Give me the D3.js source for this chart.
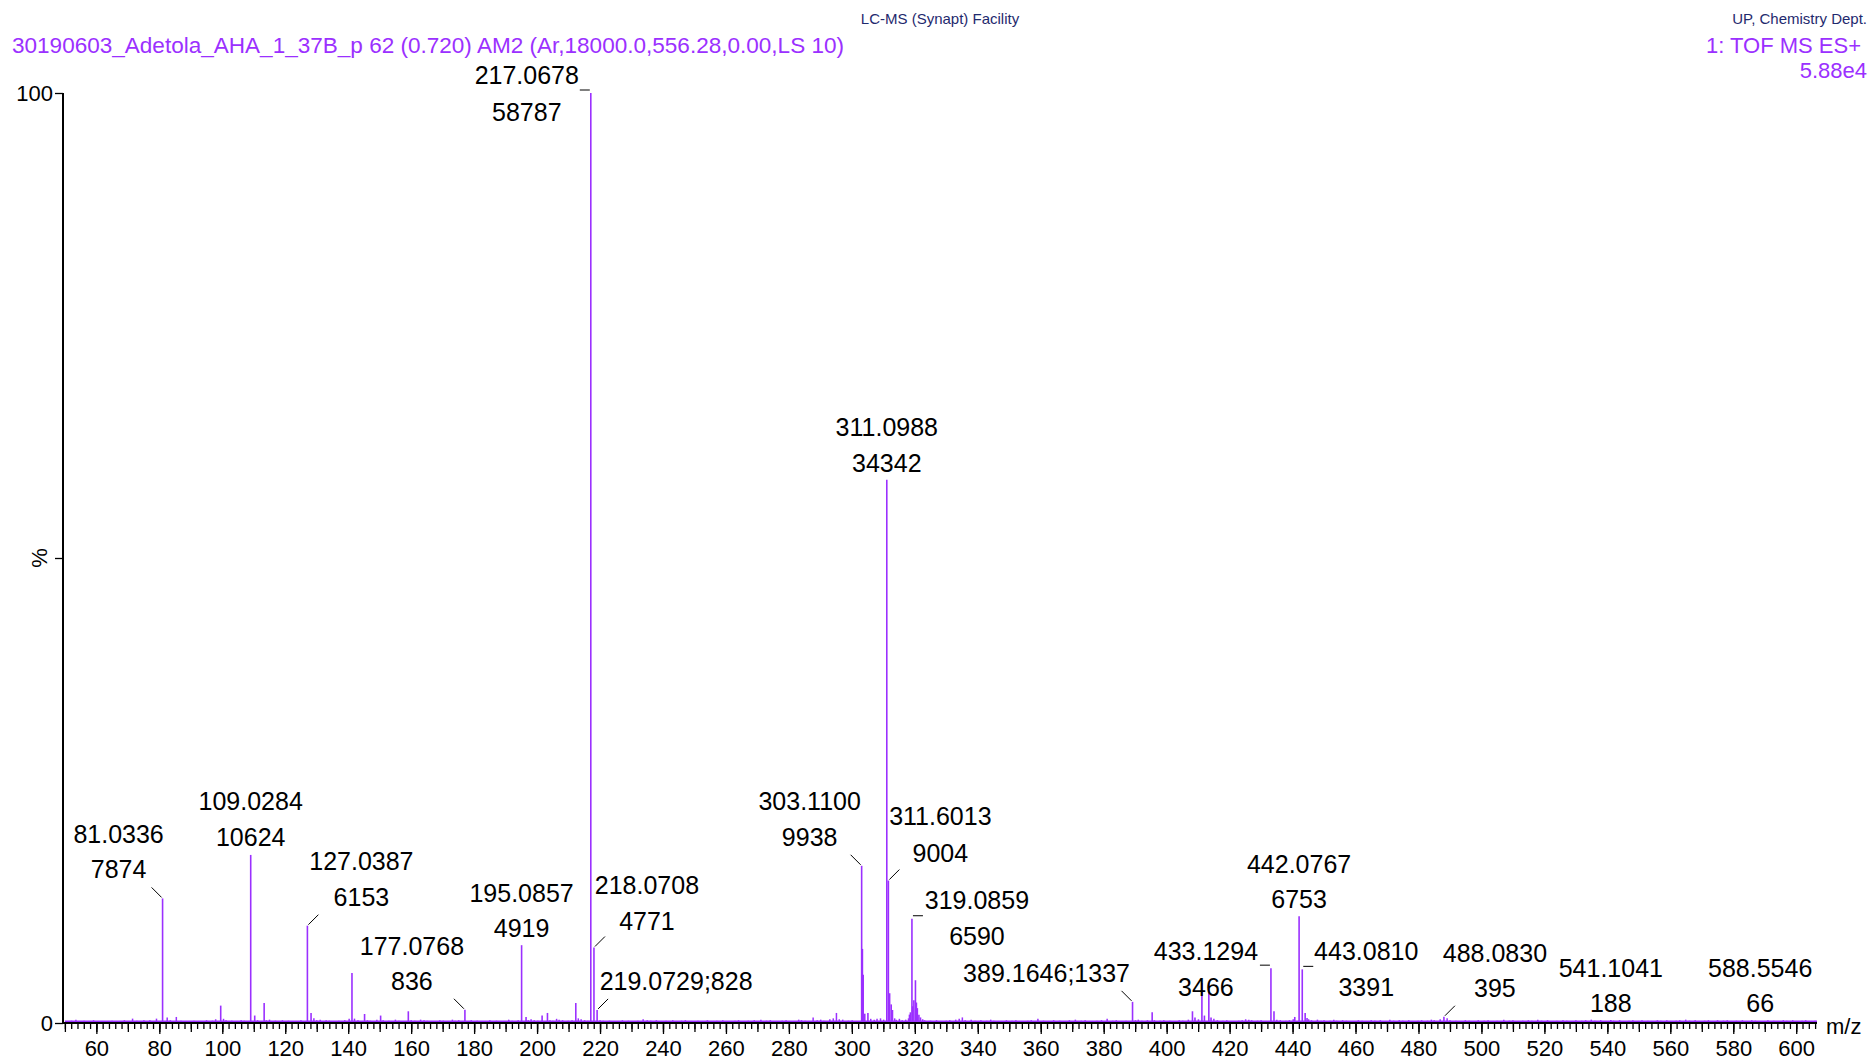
<!DOCTYPE html>
<html>
<head>
<meta charset="utf-8">
<script src="https://cdn.jsdelivr.net/npm/d3@7"></script>
<style>
  body { margin: 0; background: #fff; }
  svg text { font-family: "Liberation Sans", Arial, sans-serif; }
</style>
</head>
<body>
<script>
// ---- data ----
var basePeak = 58787;   // 100 % = 5.88e4

// labelled peaks (m/z, intensity counts)
var peakMz = [81.0336, 109.0284, 127.0387, 177.0768, 195.0857, 217.0678, 218.0708, 219.0729,
              303.1100, 311.0988, 311.6013, 319.0859, 389.1646, 433.1294, 442.0767, 443.0810,
              488.0830, 541.1041, 588.5546];
var peakInt = [7874, 10624, 6153, 836, 4919, 58787, 4771, 828,
               9938, 34342, 9004, 6590, 1337, 3466, 6753, 3391,
               395, 188, 66];
// label lines (second line empty when mass;intensity on one line)
var labelLine1 = ["81.0336", "109.0284", "127.0387", "177.0768", "195.0857", "217.0678", "218.0708", "219.0729;828",
                  "303.1100", "311.0988", "311.6013", "319.0859", "389.1646;1337", "433.1294", "442.0767", "443.0810",
                  "488.0830", "541.1041", "588.5546"];
var labelLine2 = ["7874", "10624", "6153", "836", "4919", "58787", "4771", "",
                  "9938", "34342", "9004", "6590", "", "3466", "6753", "3391",
                  "395", "188", "66"];

// smaller unlabelled peaks [m/z, % of base peak]
var minorPeaks = [
  [99.5, 1.87], [110.3, 0.8], [113.3, 2.15], [128.2, 1.08], [141.2, 5.38], [145.2, 0.97],
  [150.3, 0.8], [159.1, 1.26], [196.5, 0.65], [201.6, 0.8], [203.3, 1.08], [212.3, 2.15],
  [303.35, 7.97], [303.6, 5.2], [304.1, 1.0], [305.1, 1.08], [312.0, 3.2], [312.5, 2.0], [312.9, 1.4],
  [318.3, 0.9], [318.6, 1.15], [319.3, 1.8], [319.7, 2.44], [320.2, 4.6], [320.5, 2.2], [320.8, 1.6],
  [321.3, 0.9], [321.8, 0.6], [395.4, 1.15], [408.2, 1.26], [409.0, 0.6], [411.2, 4.3], [412.0, 0.8],
  [413.4, 4.3], [414.1, 0.6], [434.1, 1.26], [440.7, 0.65], [444.0, 1.08], [444.6, 0.54]
];

// baseline noise [m/z, %]
var noisePeaks = [
  [51.0,0.2],[52.1,0.25],[53.5,0.36],[55.0,0.2],[56.1,0.25],[57.0,0.22],[58.2,0.2],[59.1,0.3],[60.9,0.2],
  [62.0,0.22],[63.1,0.2],[65.0,0.25],[67.0,0.2],[68.9,0.3],[69.9,0.22],[71.5,0.47],[72.9,0.25],[74.0,0.2],
  [75.1,0.3],[77.0,0.3],[78.0,0.22],[79.1,0.47],[82.5,0.6],[83.5,0.3],[85.4,0.65],[86.9,0.25],[88.0,0.2],
  [89.1,0.22],[91.0,0.25],[92.0,0.2],[93.1,0.22],[95.0,0.3],[96.9,0.25],[97.9,0.4],[100.4,0.45],[101.2,0.3],
  [103.0,0.25],[104.9,0.22],[106.0,0.3],[107.0,0.25],[111.2,0.3],[114.0,0.3],[115.0,0.36],[116.9,0.25],
  [118.0,0.2],[119.1,0.3],[121.0,0.25],[123.0,0.2],[124.1,0.22],[125.0,0.3],[129.1,0.5],[130.0,0.3],
  [131.1,0.36],[133.0,0.3],[134.0,0.25],[135.1,0.22],[137.0,0.25],[138.9,0.3],[140.3,0.47],[142.0,0.47],
  [143.1,0.3],[146.1,0.3],[147.0,0.25],[149.1,0.36],[151.1,0.3],[152.9,0.25],[155.0,0.36],[156.1,0.25],
  [157.1,0.2],[160.0,0.3],[161.1,0.25],[163.0,0.36],[164.1,0.3],[165.1,0.25],[167.0,0.2],[169.1,0.3],
  [170.2,0.25],[171.1,0.22],[173.1,0.36],[174.0,0.25],[175.1,0.3],[178.0,0.22],[179.1,0.3],[181.0,0.25],
  [182.9,0.2],[184.1,0.22],[185.0,0.3],[187.1,0.25],[189.0,0.2],[191.0,0.36],[192.1,0.25],[194.0,0.3],
  [197.2,0.3],[198.1,0.4],[199.1,0.3],[200.2,0.25],[204.1,0.3],[205.0,0.25],[206.2,0.45],[207.0,0.36],
  [208.1,0.3],[209.9,0.25],[211.1,0.3],[213.1,0.5],[214.0,0.4],[215.1,0.3],[216.1,0.25],[220.0,0.3],
  [221.0,0.25],[222.1,0.2],[223.0,0.25],[224.9,0.2],[226.0,0.22],[227.1,0.3],[229.0,0.25],[230.9,0.22],
  [232.0,0.25],[233.7,0.4],[235.0,0.3],[236.1,0.25],[237.9,0.3],[239.1,0.22],[241.0,0.25],[243.1,0.3],
  [244.0,0.2],[245.9,0.25],[247.1,0.3],[249.0,0.22],[251.1,0.25],[252.9,0.2],[254.1,0.3],[256.0,0.22],
  [257.1,0.25],[259.0,0.3],[261.1,0.2],[262.9,0.25],[264.0,0.3],[265.9,0.22],[267.1,0.25],[269.0,0.3],
  [271.1,0.36],[272.9,0.25],[274.1,0.3],[276.0,0.22],[277.9,0.25],[279.1,0.3],[281.0,0.22],[283.1,0.36],
  [284.0,0.3],[285.1,0.25],[287.7,0.6],[289.0,0.3],[290.1,0.36],[291.1,0.25],[293.0,0.4],[294.1,0.5],
  [295.1,1.08],[296.0,0.4],[297.1,0.36],[298.9,0.25],[300.1,0.3],[301.0,0.22],[306.0,0.45],[307.1,0.36],
  [308.0,0.45],[309.1,0.5],[310.1,0.36],[313.6,0.5],[314.1,0.36],[315.1,0.45],[316.0,0.3],[317.1,0.36],
  [318.0,0.5],[322.5,0.4],[323.1,0.3],[325.0,0.25],[326.9,0.3],[328.1,0.22],[330.0,0.25],[331.1,0.3],
  [333.0,0.36],[334.1,0.45],[335.1,0.6],[336.0,0.3],[337.9,0.36],[339.1,0.25],[341.0,0.3],[342.9,0.25],
  [344.1,0.36],[345.1,0.25],[347.0,0.22],[349.1,0.3],[350.9,0.25],[352.1,0.3],[354.0,0.22],[355.9,0.25],
  [357.0,0.3],[359.1,0.45],[360.9,0.25],[362.0,0.22],[364.1,0.3],[366.0,0.25],[367.9,0.22],[369.1,0.3],
  [371.0,0.36],[372.9,0.25],[374.1,0.3],[376.0,0.22],[377.9,0.25],[379.3,0.3],[381.1,0.47],[382.9,0.25],
  [384.0,0.3],[386.0,0.22],[387.1,0.25],[390.1,0.3],[391.0,0.36],[392.1,0.25],[393.9,0.3],[396.1,0.3],
  [397.9,0.25],[399.1,0.3],[401.0,0.25],[402.9,0.22],[404.0,0.3],[405.1,0.25],[406.9,0.36],[410.1,0.4],
  [415.0,0.45],[416.1,0.3],[417.9,0.25],[419.1,0.3],[421.0,0.22],[422.9,0.25],[424.0,0.3],[425.1,0.4],
  [426.1,0.36],[427.0,0.3],[428.9,0.25],[430.0,0.3],[431.1,0.22],[435.0,0.36],[436.1,0.3],[437.9,0.25],
  [439.0,0.3],[440.2,0.4],[445.1,0.4],[446.0,0.3],[447.9,0.36],[449.1,0.25],[450.0,0.3],[451.9,0.25],
  [453.1,0.36],[454.0,0.25],[455.9,0.3],[457.1,0.25],[459.0,0.22],[460.9,0.3],[462.1,0.25],[463.9,0.22],
  [465.0,0.3],[466.1,0.25],[467.9,0.3],[469.0,0.22],[470.9,0.36],[472.1,0.25],[473.9,0.3],[475.0,0.25],
  [476.9,0.3],[478.1,0.22],[479.9,0.25],[481.0,0.3],[482.9,0.25],[484.1,0.36],[485.0,0.3],[486.9,0.4],
  [489.1,0.5],[490.0,0.3],[491.9,0.25],[493.0,0.22],[494.9,0.3],[496.1,0.25],[497.9,0.22],[499.0,0.3],
  [500.9,0.25],[502.1,0.3],[503.9,0.22],[505.0,0.25],[507.1,0.36],[508.9,0.25],[510.0,0.3],[511.9,0.22],
  [513.1,0.25],[514.9,0.3],[516.0,0.25],[517.9,0.36],[519.1,0.25],[521.0,0.3],[522.9,0.22],[524.0,0.25],
  [525.9,0.3],[527.1,0.25],[528.9,0.22],[530.0,0.3],[531.9,0.25],[533.1,0.3],[534.9,0.36],[536.0,0.25],
  [537.9,0.3],[539.1,0.22],[542.0,0.25],[543.9,0.3],[545.0,0.22],[546.9,0.25],[548.1,0.3],[549.9,0.22],
  [551.0,0.3],[552.9,0.25],[554.1,0.22],[555.9,0.3],[557.0,0.25],[558.9,0.3],[560.1,0.22],[561.9,0.25],
  [563.0,0.3],[564.9,0.36],[566.1,0.25],[567.9,0.3],[569.0,0.22],[570.9,0.25],[572.1,0.3],[573.9,0.22],
  [575.0,0.3],[576.9,0.25],[578.1,0.3],[579.9,0.22],[581.0,0.25],[582.9,0.3],[584.1,0.22],[585.9,0.3],
  [587.0,0.25],[589.9,0.22],[591.0,0.3],[592.9,0.25],[594.1,0.22],[595.9,0.3],[597.0,0.25],[598.9,0.3],
  [600.1,0.22],[601.9,0.25],[603.0,0.3],[604.9,0.22],[606.0,0.25]
];

var xTickLabels = d3.range(60, 601, 20);

// label placement relative to the peak top (px) and leader style
var labelLayout = [
  {dx: -44, dy1: -55, dy2: -20, lead: "bs"}, {dx: 0, dy1: -45, dy2: -9, lead: ""},
  {dx: 54, dy1: -56, dy2: -20, lead: "fs"},  {dx: -53, dy1: -55, dy2: -20, lead: "bs"},
  {dx: 0, dy1: -43, dy2: -8, lead: ""},      {dx: -64, dy1: -9, dy2: 28, lead: "hl"},
  {dx: 53, dy1: -54, dy2: -18, lead: "fs"},  {dx: 79, dy1: -20, dy2: 0, lead: "fs"},
  {dx: -52, dy1: -56, dy2: -20, lead: "bs"}, {dx: 0, dy1: -44, dy2: -8, lead: ""},
  {dx: 52, dy1: -56, dy2: -19, lead: "fs"},  {dx: 65, dy1: -10, dy2: 26, lead: "hr"},
  {dx: -86, dy1: -20, dy2: 0, lead: "bs"},   {dx: -65, dy1: -8, dy2: 28, lead: "hl"},
  {dx: 0, dy1: -43, dy2: -8, lead: ""},      {dx: 64, dy1: -9, dy2: 27, lead: "hr"},
  {dx: 51, dy1: -55, dy2: -20, lead: "fs"},  {dx: 0, dy1: -43, dy2: -8, lead: ""},
  {dx: 0, dy1: -45, dy2: -10, lead: ""}
];

// ---- drawing ----
var W = 1870, H = 1061;
var purple = "#9b30ff";

var svg = d3.select("body").append("svg")
  .attr("width", W)
  .attr("height", H);

var x = d3.scaleLinear().domain([49.4, 606.6]).range([63, 1817]);
var y = d3.scaleLinear().domain([0, 100]).range([1023, 93]);

// header texts
svg.append("text").attr("x", 12).attr("y", 53)
  .attr("font-size", 22).attr("fill", purple)
  .attr("textLength", 832).attr("lengthAdjust", "spacingAndGlyphs")
  .text("30190603_Adetola_AHA_1_37B_p 62 (0.720) AM2 (Ar,18000.0,556.28,0.00,LS 10)");
svg.append("text").attr("x", 940).attr("y", 24).attr("text-anchor", "middle")
  .attr("font-size", 15).attr("fill", "#1f2a6e")
  .text("LC-MS (Synapt) Facility");
svg.append("text").attr("x", 1867).attr("y", 24).attr("text-anchor", "end")
  .attr("font-size", 15).attr("fill", "#1f2a6e")
  .text("UP, Chemistry Dept.");
svg.append("text").attr("x", 1861).attr("y", 53).attr("text-anchor", "end")
  .attr("font-size", 22).attr("fill", purple)
  .text("1: TOF MS ES+");
svg.append("text").attr("x", 1867).attr("y", 78).attr("text-anchor", "end")
  .attr("font-size", 22).attr("fill", purple)
  .text("5.88e4");

// spectrum sticks
function stick(g, data, w) {
  g.selectAll("line").data(data).enter().append("line")
    .attr("x1", function(d) { return x(d[0]); })
    .attr("x2", function(d) { return x(d[0]); })
    .attr("y1", y(0))
    .attr("y2", function(d) { return y(d[1]); })
    .attr("stroke", purple)
    .attr("stroke-width", w);
}
var peaks = peakMz.map(function(m, i) { return [m, peakInt[i] / basePeak * 100]; });

svg.append("line")
  .attr("x1", x(50)).attr("x2", x(606.6))
  .attr("y1", y(0.15)).attr("y2", y(0.15))
  .attr("stroke", purple).attr("stroke-width", 2.2);
stick(svg.append("g"), noisePeaks, 1.5);
stick(svg.append("g"), minorPeaks, 1.6);
stick(svg.append("g"), peaks, 1.6);

// x axis: minor, medium, major ticks
svg.append("line")
  .attr("x1", x(49.4)).attr("x2", x(606.6))
  .attr("y1", y(0)).attr("y2", y(0))
  .attr("stroke", "#000").attr("stroke-width", 2);

var gMinor = svg.append("g").attr("transform", "translate(0," + y(0) + ")")
  .call(d3.axisBottom(x).tickValues(d3.range(50, 607, 2)).tickSize(6).tickFormat(""));
var gMid = svg.append("g").attr("transform", "translate(0," + y(0) + ")")
  .call(d3.axisBottom(x).tickValues(d3.range(50, 607, 10)).tickSize(9).tickFormat(""));
var gMajor = svg.append("g").attr("transform", "translate(0," + y(0) + ")")
  .call(d3.axisBottom(x).tickValues(xTickLabels).tickSize(11).tickPadding(6).tickFormat(d3.format("d")));
[gMinor, gMid, gMajor].forEach(function(g) {
  g.select(".domain").remove();
  g.selectAll(".tick line").attr("stroke", "#000").attr("stroke-width", 1.3);
});
gMajor.selectAll("text")
  .attr("font-size", 22)
  .attr("fill", "#000")
  .style("font-family", "'Liberation Sans', Arial, sans-serif");

svg.append("text").attr("x", 1826).attr("y", 1034)
  .attr("font-size", 22).attr("fill", "#000")
  .text("m/z");

// y axis
var gy = svg.append("g").attr("transform", "translate(" + x(49.4) + ",0)")
  .call(d3.axisLeft(y).tickValues([0, 50, 100]).tickSize(8).tickPadding(2)
    .tickFormat(function(d) { return d === 50 ? "" : d; }));
gy.select(".domain").attr("stroke", "#000").attr("stroke-width", 2)
  .attr("d", "M0," + y(100) + "V" + y(0));
gy.selectAll(".tick line").attr("stroke", "#000").attr("stroke-width", 1.3);
gy.selectAll("text")
  .attr("font-size", 22)
  .attr("fill", "#000")
  .style("font-family", "'Liberation Sans', Arial, sans-serif");

svg.append("text")
  .attr("transform", "translate(47," + y(50) + ") rotate(-90)")
  .attr("text-anchor", "middle")
  .attr("font-size", 22).attr("fill", "#000")
  .text("%");

// peak labels + leaders
var lab = svg.append("g").attr("font-size", 25).attr("fill", "#000").attr("text-anchor", "middle");
peaks.forEach(function(p, i) {
  var px = x(p[0]), py = y(p[1]), L = labelLayout[i];
  lab.append("text").attr("x", px + L.dx).attr("y", py + L.dy1).text(labelLine1[i]);
  if (labelLine2[i]) lab.append("text").attr("x", px + L.dx).attr("y", py + L.dy2).text(labelLine2[i]);
  var seg = null;
  if (L.lead === "bs") seg = [px - 11, py - 11, px - 1, py - 1];
  if (L.lead === "fs") seg = [px + 11, py - 11, px + 1, py - 1];
  if (L.lead === "hl") seg = [px - 11, py - 3, px - 1, py - 3];
  if (L.lead === "hr") seg = [px + 1, py - 3, px + 11, py - 3];
  if (seg) {
    svg.append("line")
      .attr("x1", seg[0]).attr("y1", seg[1]).attr("x2", seg[2]).attr("y2", seg[3])
      .attr("stroke", "#000").attr("stroke-width", 1);
  }
});
</script>
</body>
</html>
